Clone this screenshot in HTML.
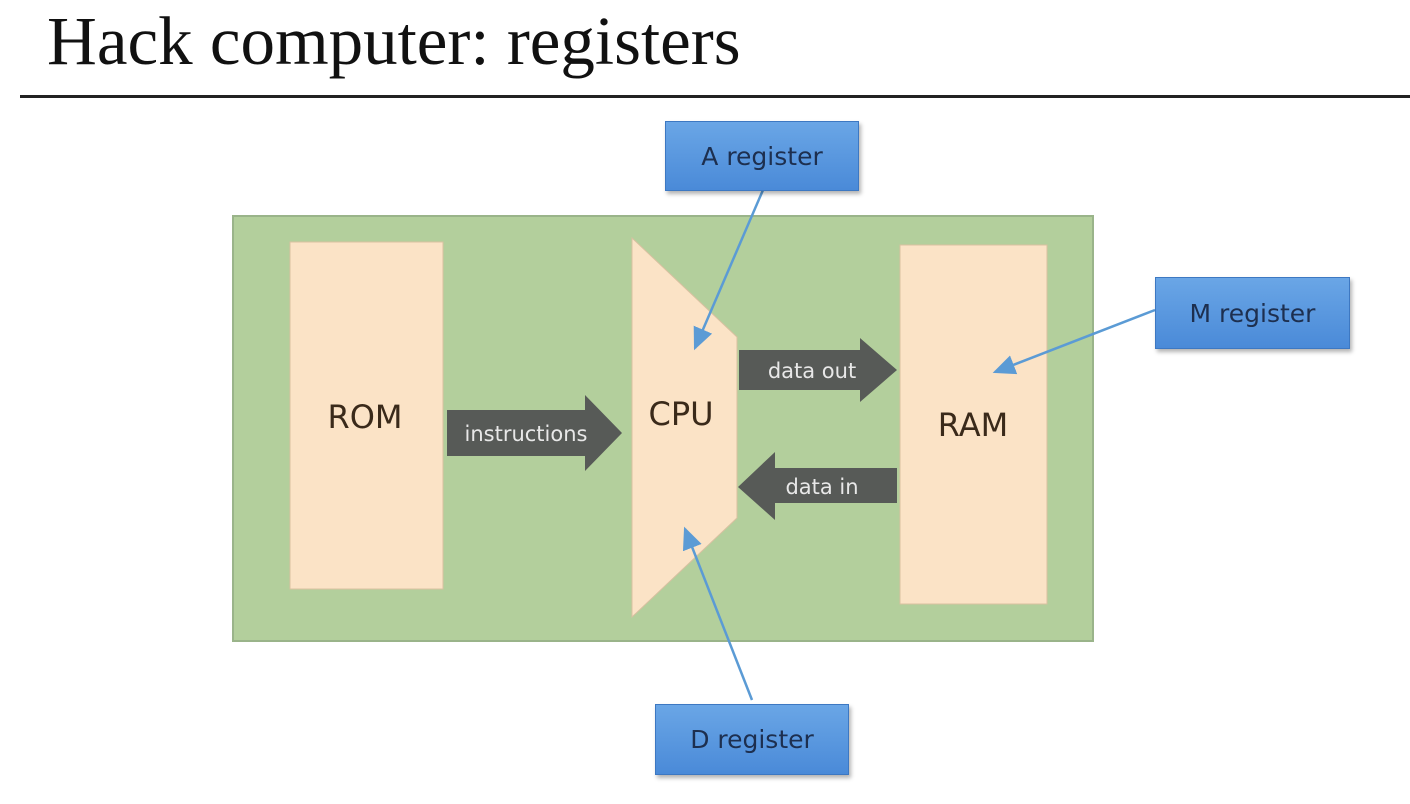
<!DOCTYPE html>
<html><head><style>
body{margin:0;width:1410px;height:804px;background:#fff;overflow:hidden;position:relative;font-family:"DejaVu Sans","Liberation Sans",sans-serif}
.t{position:absolute;left:47px;top:4px;font:69px "Liberation Serif",serif;color:#111;line-height:1.1}
.hr{position:absolute;left:20px;top:95px;width:1390px;height:3px;background:#222}
.reg{position:absolute;background:linear-gradient(#6aa6e6,#4a8ad8);border:1px solid #3d78c2;box-shadow:2px 3px 4px rgba(0,0,0,.3);color:#1d2f4f;font-size:25px;display:flex;align-items:center;justify-content:center}
</style></head><body>
<div class="t">Hack computer: registers</div>
<div class="hr"></div>
<svg width="1410" height="804" style="position:absolute;left:0;top:0">
<defs><marker id="ar" markerWidth="10" markerHeight="10" refX="8" refY="5" orient="auto"><path d="M0,1 L9,5 L0,9 Z" fill="#5b9bd5"/></marker></defs>
<rect x="233" y="216" width="860" height="425" fill="#b3cf9c" stroke="#9ab48a" stroke-width="2"/>
<rect x="290" y="242" width="153" height="347" fill="#fbe3c6" stroke="#d8c0a0"/>
<rect x="900" y="245" width="147" height="359" fill="#fbe3c6" stroke="#d8c0a0"/>
<polygon points="632,238 737,337 737,518 632,617" fill="#fbe3c6" stroke="#d8c0a0"/>
<text x="365" y="428" font-size="32" text-anchor="middle" fill="#3a2a1a" font-family="DejaVu Sans,sans-serif">ROM</text>
<text x="973" y="436" font-size="32" text-anchor="middle" fill="#3a2a1a" font-family="DejaVu Sans,sans-serif">RAM</text>
<text x="681" y="425" font-size="32" text-anchor="middle" fill="#3a2a1a" font-family="DejaVu Sans,sans-serif">CPU</text>
<polygon points="447,410 585,410 585,395 622,433 585,471 585,456 447,456" fill="#575a57"/>
<text x="526" y="441" font-size="21" text-anchor="middle" fill="#e8e8e8">instructions</text>
<polygon points="739,350 860,350 860,338 897,370 860,402 860,390 739,390" fill="#575a57"/>
<text x="812" y="378" font-size="21" text-anchor="middle" fill="#e8e8e8">data out</text>
<polygon points="897,468 775,468 775,452 738,487 775,520 775,503 897,503" fill="#575a57"/>
<text x="822" y="494" font-size="21" text-anchor="middle" fill="#e8e8e8">data in</text>
<line x1="763" y1="190" x2="695" y2="348" stroke="#5b9bd5" stroke-width="2.5" marker-end="url(#ar)"/>
<line x1="1155" y1="310" x2="995" y2="372" stroke="#5b9bd5" stroke-width="2.5" marker-end="url(#ar)"/>
<line x1="752" y1="700" x2="685" y2="529" stroke="#5b9bd5" stroke-width="2.5" marker-end="url(#ar)"/>
</svg>
<div class="reg" style="left:665px;top:121px;width:192px;height:68px">A register</div>
<div class="reg" style="left:1155px;top:277px;width:193px;height:70px">M register</div>
<div class="reg" style="left:655px;top:704px;width:192px;height:69px">D register</div>
</body></html>
